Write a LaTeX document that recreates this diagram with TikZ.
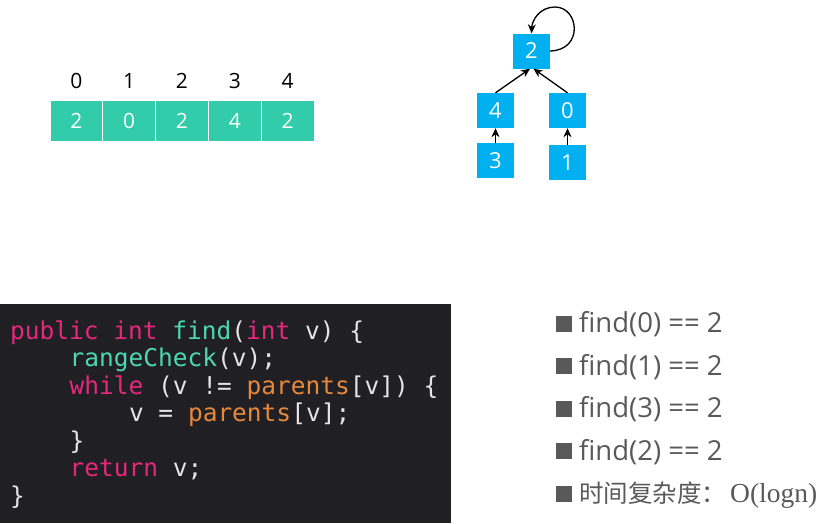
\documentclass[tikz,border=0pt]{standalone}
\usepackage{fontspec}
\setmainfont{Open Sans}
\setmonofont{DejaVu Sans Mono}
\newfontfamily\cjkf{Noto Sans CJK SC}
\newfontfamily\serf{Liberation Serif}
\usetikzlibrary{arrows.meta}
\definecolor{cellc}{RGB}{51,204,170}
\definecolor{nodec}{RGB}{0,176,240}
\definecolor{codebg}{RGB}{31,31,36}
\definecolor{codefg}{RGB}{228,228,228}
\definecolor{pk}{RGB}{230,40,125}
\definecolor{tl}{RGB}{78,214,180}
\definecolor{orc}{RGB}{232,136,58}
\definecolor{listc}{RGB}{89,89,89}
\tikzset{
  cell/.style={fill=cellc, draw=white, line width=1pt, minimum width=52.8pt, minimum height=41pt, inner sep=0pt, text=white, font=\fontsize{21}{24}\selectfont},
  idx/.style={inner sep=0pt, text=black, font=\fontsize{21}{24}\selectfont},
  tnode/.style={fill=nodec, minimum width=37pt, minimum height=35pt, inner sep=0pt, text=white, font=\fontsize{22}{24}\selectfont},
  arr/.style={-{Stealth[length=9pt,width=8pt]}, line width=1.3pt, black},
  codeline/.style={anchor=base west, inner sep=0pt, text=codefg, font=\ttfamily\fontsize{24.5}{27}\selectfont},
  bullet/.style={fill=listc, minimum size=16pt, inner sep=0pt},
  item/.style={anchor=base west, inner sep=0pt, text=listc, font=\fontsize{27.5}{30}\selectfont}
}
\begin{document}
\begin{tikzpicture}[x=1pt,y=-1pt]
\useasboundingbox (0,0) rectangle (833,523);
% array
\foreach \v/\i [count=\k from 0] in {2/0,0/1,2/2,4/3,2/4}{
  \node[cell] (c\k) at (50+26.4+52.8*\k,120.5) {\v};
  \node[idx] (i\k) at (50+26.4+52.8*\k,80.5) {\i};
}
% tree
\node[tnode] (n2) at (531.5,51) {2};
\node[tnode] (n4) at (495.5,110.5) {4};
\node[tnode] (n0) at (567.5,110.5) {0};
\node[tnode] (n3) at (495.5,160.5) {3};
\node[tnode] (n1) at (567.5,162.5) {1};
\draw[arr] (n4.north) -- ([xshift=-1.5pt]n2.south);
\draw[arr] (n0.north) -- ([xshift=2pt]n2.south);
\draw[arr] (n3.north) -- (n4.south);
\draw[arr] (n1.north) -- (n0.south);
\draw[arr] (n2.east) .. controls (584,50) and (579,7) .. (555,7) .. controls (540,7) and (532,20) .. (n2.north);
% code
\fill[codebg] (0,304) rectangle (451,523);
\node[codeline] (l1) at (10,339) {\textcolor{pk}{public int} \textcolor{tl}{find}(\textcolor{pk}{int} v) \{};
\node[codeline] (l2) at (69.4,366.5) {\textcolor{tl}{rangeCheck}(v);};
\node[codeline] (l3) at (69.4,394) {\textcolor{pk}{while} (v != \textcolor{orc}{parents}[v]) \{};
\node[codeline] (l4) at (128.8,421.5) {v = \textcolor{orc}{parents}[v];};
\node[codeline] (l5) at (69.4,449) {\}};
\node[codeline] (l6) at (69.4,476.5) {\textcolor{pk}{return} v;};
\node[codeline] (l7) at (10,504) {\}};
% list
\foreach \t [count=\k from 0] in {find(0) == 2,find(1) == 2,find(3) == 2,find(2) == 2}{
  \node[bullet] (b\k) at (564,323.5+42.5*\k) {};
  \node[item] (t\k) at (579,332.5+42.5*\k) {\t};
}
\node[bullet] (b4) at (564,323.5+42.5*4) {};
\node[item] (t4) at (579,332.5+42.5*4) {{\cjkf\fontsize{24.5}{28}\selectfont 时间复杂度：}\hspace{4pt}{\serf O(logn)}};
\end{tikzpicture}
\end{document}
